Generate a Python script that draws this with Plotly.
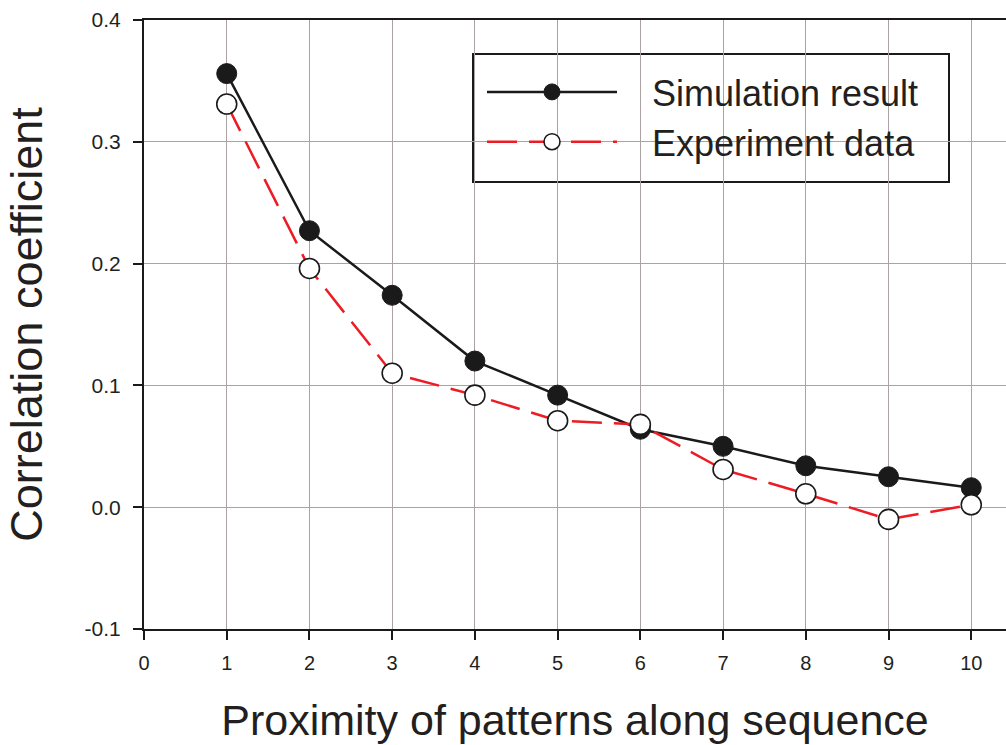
import plotly.graph_objects as go

proximity = [1, 2, 3, 4, 5, 6, 7, 8, 9, 10]
simulation = [0.356, 0.227, 0.174, 0.120, 0.092, 0.064, 0.050, 0.034, 0.025, 0.016]
experiment = [0.331, 0.196, 0.110, 0.092, 0.071, 0.068, 0.031, 0.011, -0.010, 0.002]

x_ticks = [0, 1, 2, 3, 4, 5, 6, 7, 8, 9, 10]
y_ticks = [-0.1, 0.0, 0.1, 0.2, 0.3, 0.4]
y_ticktext = ["-0.1", "0.0", "0.1", "0.2", "0.3", "0.4"]

FONT = "Liberation Sans, Arial, sans-serif"
TXT = "#231f20"
GRID = "#aba2a2"
NB = "\u00a0"

fig = go.Figure()
fig.add_trace(go.Scatter(
    x=proximity, y=simulation, name=NB * 3 + "Simulation result",
    mode="lines+markers",
    line=dict(color="#1a1a1a", width=2.5),
    marker=dict(symbol="circle", size=20, color="#1a1a1a",
                line=dict(color="#1a1a1a", width=1)),
))
fig.add_trace(go.Scatter(
    x=proximity, y=experiment, name=NB * 3 + "Experiment data",
    mode="lines+markers",
    line=dict(color="#ed1c24", width=2.5, dash="30px,12px"),
    marker=dict(symbol="circle", size=20, color="white",
                line=dict(color="#1a1a1a", width=1.6)),
))

# legend frame (paper coordinates; plot area x 144..1006, y 20..629)
fig.add_shape(
    type="rect", xref="paper", yref="paper",
    x0=(473 - 144) / 862, x1=(949 - 144) / 862,
    y0=(629 - 182) / 609, y1=(629 - 54) / 609,
    line=dict(color="#1a1a1a", width=2), fillcolor="white", layer="between",
)

fig.update_layout(
    width=1006, height=745,
    margin=dict(l=144, r=0, t=20, b=116),
    paper_bgcolor="white", plot_bgcolor="white",
    font=dict(family=FONT, color=TXT),
    showlegend=True,
    legend=dict(
        x=(482 - 144) / 862, y=(629 - 62) / 609, xanchor="left", yanchor="top",
        bgcolor="rgba(0,0,0,0)", borderwidth=0,
        font=dict(size=36, family=FONT, color=TXT),
        itemwidth=130,
        tracegroupgap=0,
    ),
    xaxis=dict(
        range=[0, 10.42],
        tickmode="array", tickvals=x_ticks,
        ticks="outside", ticklen=9, tickwidth=1.5, tickcolor="#1a1a1a",
        showline=True, linecolor="#1a1a1a", linewidth=2, mirror=True,
        showgrid=True, gridcolor=GRID, gridwidth=1,
        zeroline=False,
        ticklabelstandoff=6,
        tickfont=dict(size=20, family=FONT, color=TXT),
        title=dict(text="Proximity of patterns along sequence",
                   font=dict(size=43, family=FONT, color=TXT), standoff=32),
    ),
    yaxis=dict(
        range=[-0.1, 0.4],
        tickmode="array", tickvals=y_ticks, ticktext=y_ticktext,
        ticks="outside", ticklen=9, tickwidth=1.5, tickcolor="#1a1a1a",
        showline=True, linecolor="#1a1a1a", linewidth=2,
        showgrid=True, gridcolor=GRID, gridwidth=1,
        zeroline=False,
        ticklabelstandoff=8,
        tickfont=dict(size=21, family=FONT, color=TXT),
        title=dict(text="Correlation coefficient",
                   font=dict(size=45, family=FONT, color=TXT), standoff=28),
    ),
)

fig.write_html("out.html")
